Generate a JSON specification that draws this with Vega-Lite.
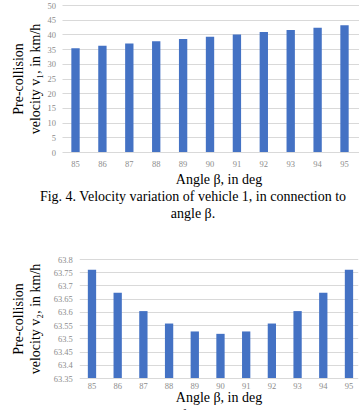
{
  "$schema": "https://vega.github.io/schema/vega-lite/v6.json",
  "background": "white",
  "padding": {"left": 11, "top": 1, "right": 0, "bottom": 0},
  "center": true,
  "spacing": 34,
  "data": {
    "values": [
      {"angle": 85, "v1": 35.3, "v2": 63.759},
      {"angle": 86, "v1": 36.1, "v2": 63.672},
      {"angle": 87, "v1": 36.9, "v2": 63.603},
      {"angle": 88, "v1": 37.7, "v2": 63.556},
      {"angle": 89, "v1": 38.4, "v2": 63.526},
      {"angle": 90, "v1": 39.2, "v2": 63.517},
      {"angle": 91, "v1": 40.0, "v2": 63.526},
      {"angle": 92, "v1": 40.8, "v2": 63.556},
      {"angle": 93, "v1": 41.5, "v2": 63.603},
      {"angle": 94, "v1": 42.3, "v2": 63.672},
      {"angle": 95, "v1": 43.1, "v2": 63.759}
    ]
  },
  "config": {
    "view": {"stroke": null},
    "font": "Liberation Serif",
    "style": {
      "guide-title": {"font": "Liberation Serif", "fontWeight": 400, "fill": "#000000"},
      "guide-label": {"font": "Liberation Serif", "fontWeight": 400}
    },
    "axis": {
      "labelFont": "Liberation Serif",
      "titleFont": "Liberation Serif",
      "labelColor": "#8c8c8c",
      "labelFontSize": 8.5,
      "titleFontSize": 14,
      "titleFontWeight": 400,
      "titleColor": "#000000",
      "gridColor": "#d9d9d9",
      "gridWidth": 1,
      "domain": false,
      "ticks": false
    },
    "title": {
      "font": "Liberation Serif",
      "fontSize": 14,
      "fontWeight": 400,
      "color": "#000000",
      "orient": "bottom",
      "frame": "bounds",
      "anchor": "middle",
      "lineHeight": 17
    }
  },
  "vconcat": [
    {
      "width": 313,
      "height": 147,
      "title": {
        "text": ["Fig. 4. Velocity variation of vehicle 1, in connection to", "angle β."],
        "offset": 3
      },
      "mark": {"type": "bar", "color": "#4472C4"},
      "encoding": {
        "x": {
          "field": "angle",
          "type": "ordinal",
          "scale": {"paddingInner": 0.69, "paddingOuter": 0.663, "align": 0.262},
          "axis": {"title": "Angle β, in deg", "labelAngle": 0, "labelPadding": 7, "titlePadding": 5, "grid": false, "titleFontWeight": 400}
        },
        "y": {
          "field": "v1",
          "type": "quantitative",
          "scale": {"domain": [0, 50], "nice": false},
          "axis": {
            "values": [0, 5, 10, 15, 20, 25, 30, 35, 40, 45, 50],
            "title": ["Pre-collision", "velocity v₁, in km/h"],
            "titleLineHeight": 17,
            "labelPadding": 6.5,
            "titlePadding": 5,
            "titleFontWeight": 400
          }
        }
      }
    },
    {
      "width": 278.5,
      "height": 119,
      "title": {
        "text": ["Fig. 5. Velocity variation of vehicle 2, in connection to", "angle β."],
        "offset": 4
      },
      "mark": {"type": "bar", "color": "#4472C4"},
      "encoding": {
        "x": {
          "field": "angle",
          "type": "ordinal",
          "scale": {"paddingInner": 0.677, "paddingOuter": 0.257, "align": 0.65},
          "axis": {"title": "Angle β, in deg", "labelAngle": 0, "labelPadding": 3.5, "titlePadding": 0.5, "grid": false, "titleFontWeight": 400}
        },
        "y": {
          "field": "v2",
          "type": "quantitative",
          "scale": {"domain": [63.35, 63.8], "nice": false, "zero": false},
          "axis": {
            "values": [63.35, 63.4, 63.45, 63.5, 63.55, 63.6, 63.65, 63.7, 63.75, 63.8],
            "format": "~g",
            "title": ["Pre-collision", "velocity v₂, in km/h"],
            "titleLineHeight": 17,
            "labelPadding": 7,
            "titlePadding": 11,
            "titleFontWeight": 400
          }
        },
        "y2": {"datum": 63.35}
      }
    }
  ]
}
